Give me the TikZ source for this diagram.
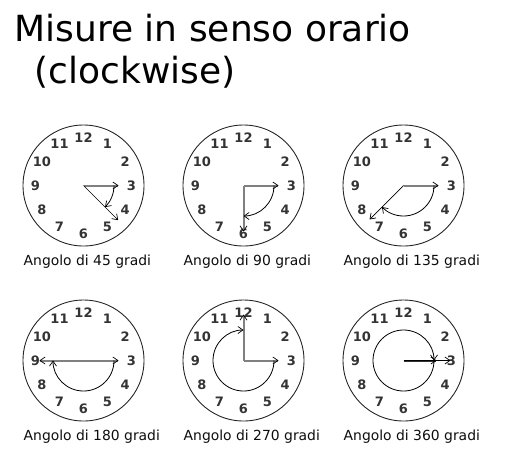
\documentclass[tikz,border=0pt]{standalone}
\usepackage{fontspec}
\setmainfont{DejaVu Sans}
\usetikzlibrary{arrows.meta,calc}
\tikzset{
  face/.style={draw=black!85, line width=0.9pt},
  num/.style={font=\fontsize{13}{13}\selectfont\bfseries, text=black!80, inner sep=0pt, anchor=center},
  lbl/.style={font=\fontsize{13.9}{14}\selectfont, text=black!95, inner sep=0pt, anchor=base west},
  tip/.style={-{Straight Barb[length=5pt,width=7pt,line width=0.7pt,color=black]}},
  hourhand/.style={tip, draw=black!50, line width=2pt},
  minhand/.style={tip, draw=black, line width=0.7pt},
  graymin/.style={tip, draw=black!50, line width=2pt},
  sweep/.style={tip, draw=black, line width=0.8pt},
}
\newcommand{\myclock}[3]{% name, x, y
  \coordinate (#1) at (#2,#3);
  \draw[face] (#1) circle[radius=60.5];
  \foreach \n in {1,...,12}{
    \node[num] (#1n\n) at ($(#1)+({90-30*\n}:48)$) {\n};
  }
}
\begin{document}
\begin{tikzpicture}[x=1pt,y=1pt]
\useasboundingbox (0,0) rectangle (510,-469);
\node[inner sep=0pt, anchor=base west, font=\fontsize{36}{40}\selectfont] (t1) at (14.5,-41.7) {Misure in senso orario};
\node[inner sep=0pt, anchor=base west, font=\fontsize{36}{40}\selectfont] (t2) at (34.5,-83) {(clockwise)};

% row 1
\myclock{a}{83.5}{-185.5}
\myclock{b}{243.5}{-185.5}
\myclock{c}{403.5}{-185.5}
% row 2
\myclock{d}{83.5}{-360.5}
\myclock{e}{243.5}{-360.5}
\myclock{f}{403.5}{-360.5}

% 45
\coordinate (ah) at ($(a)+(0:35)$);
\coordinate (am) at ($(a)+(-45:49)$);
\draw[hourhand] (a) -- (ah);
\draw[minhand] (a) -- (am);
\draw[sweep] ($(a)+(0:30.5)$) arc[start angle=0, end angle=-45, radius=30.5];
\node[lbl] (al) at (23.5,-265) {Angolo di 45 gradi};

% 90
\coordinate (bh) at ($(b)+(0:35)$);
\coordinate (bm) at ($(b)+(-90:46)$);
\draw[hourhand] (b) -- (bh);
\draw[graymin] (b) -- (bm);
\draw[sweep] ($(b)+(0:30.5)$) arc[start angle=0, end angle=-90, radius=30.5];
\node[lbl] (bl) at (183.5,-265) {Angolo di 90 gradi};

% 135
\coordinate (ch) at ($(c)+(0:35)$);
\coordinate (cm) at ($(c)+(-135:48)$);
\draw[hourhand] (c) -- (ch);
\draw[minhand] (c) -- (cm);
\draw[sweep] ($(c)+(0:30.5)$) arc[start angle=0, end angle=-135, radius=30.5];
\node[lbl] (cl) at (343.5,-265) {Angolo di 135 gradi};

% 180
\coordinate (dh) at ($(d)+(0:35)$);
\coordinate (dm) at ($(d)+(180:44)$);
\draw[hourhand] (d) -- (dh);
\draw[graymin] (d) -- (dm);
\draw[sweep] ($(d)+(0:30.5)$) arc[start angle=0, end angle=-180, radius=30.5];
\node[lbl] (dl) at (23.5,-440) {Angolo di 180 gradi};

% 270
\coordinate (eh) at ($(e)+(0:35)$);
\coordinate (em) at ($(e)+(90:46)$);
\draw[hourhand] (e) -- (eh);
\draw[graymin] (e) -- (em);
\draw[sweep] ($(e)+(0:30.5)$) arc[start angle=0, end angle=-270, radius=30.5];
\node[lbl] (el) at (183.5,-440) {Angolo di 270 gradi};

% 360
\coordinate (fh) at ($(f)+(0:33)$);
\coordinate (fm) at ($(f)+(0:47)$);
\draw[tip, draw=black!80, line width=2pt] (f) -- (fh);
\draw[minhand] (f) -- (fm);
\draw[sweep] ($(f)+(0:30.5)$) arc[start angle=0, end angle=-360, radius=30.5];
\node[lbl] (fl) at (343.5,-440) {Angolo di 360 gradi};
\end{tikzpicture}
\end{document}
